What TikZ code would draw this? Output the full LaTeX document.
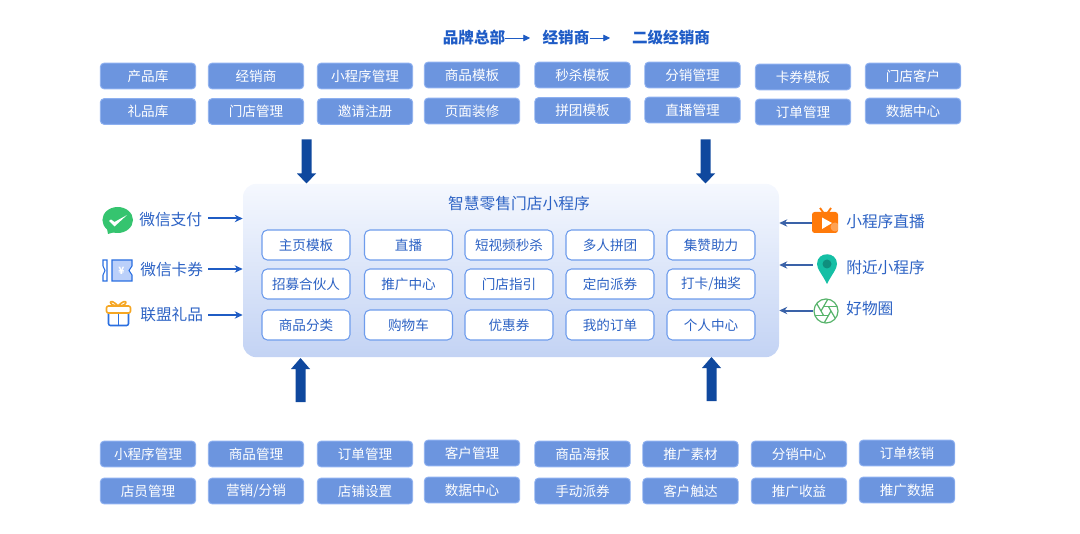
\documentclass[tikz,border=0pt]{standalone}
\usepackage{fontspec}
\setmainfont{Noto Sans CJK SC}
\usetikzlibrary{arrows.meta}
\definecolor{boxfill}{HTML}{6C95DF}
\definecolor{boxline}{HTML}{8DB0F0}
\definecolor{txtblue}{HTML}{2C62C4}
\definecolor{headblue}{HTML}{1F5CC6}
\definecolor{arrowblue}{HTML}{1F5CC4}
\definecolor{darkarrow}{HTML}{0F489E}
\definecolor{rightarrow}{HTML}{3A62A8}
\definecolor{innerline}{HTML}{6E9CEC}
\definecolor{paneltop}{HTML}{F5F8FE}
\definecolor{panelbot}{HTML}{C3D3F4}
\definecolor{wxgreen}{HTML}{35C46F}
\definecolor{cpfill}{HTML}{BBD0FA}
\definecolor{cpline}{HTML}{2A6FE0}
\definecolor{gfo}{HTML}{F5A623}
\definecolor{gfb}{HTML}{2A6FE0}
\definecolor{tvo}{HTML}{FF7A0A}
\definecolor{pincol}{HTML}{15BFA5}
\definecolor{pindark}{HTML}{0F8F7E}
\definecolor{apcol}{HTML}{56B36A}
\tikzset{
  x=0.75pt,y=-0.75pt,
  fnbox/.style={draw=boxline,line width=0.7pt,fill=boxfill,rounded corners=3pt,text=white,
    minimum width=71.6pt,minimum height=19.4pt,inner sep=0pt,font=\fontsize{10.2}{12}\selectfont},
  inbox/.style={draw=innerline,line width=0.8pt,fill=white,rounded corners=4pt,text=txtblue,
    minimum width=66pt,minimum height=22.5pt,inner sep=0pt,font=\fontsize{10.2}{12}\selectfont},
  sidelabel/.style={text=txtblue,inner sep=0pt,anchor=west,font=\fontsize{11.8}{14}\selectfont},
  headlabel/.style={text=headblue,inner sep=0pt,font=\bfseries\fontsize{11.7}{14}\selectfont},
  thinarrow/.style={draw=arrowblue,line width=1.5pt,-{Stealth[length=6pt,width=5.5pt]}},
  rarrow/.style={draw=rightarrow,line width=1.5pt,-{Stealth[length=6pt,width=5.5pt]}},
  headarrow/.style={draw=arrowblue,line width=0.5pt,-{Triangle[length=5pt,width=5pt]}},
}
\newcommand{\bigdown}[2]{\fill[darkarrow] (#1-5,#2-44)--(#1+5,#2-44)--(#1+5,#2-10)--(#1+9.5,#2-10)--(#1,#2)--(#1-9.5,#2-10)--(#1-5,#2-10)--cycle;}
\newcommand{\bigup}[2]{\fill[darkarrow] (#1-5,#2+44)--(#1+5,#2+44)--(#1+5,#2+11)--(#1+9.5,#2+11)--(#1,#2)--(#1-9.5,#2+11)--(#1-5,#2+11)--cycle;}
\begin{document}
\begin{tikzpicture}
\useasboundingbox (0,0) rectangle (1080,534);
% header
\node[headlabel] (h1) at (474,38) {品牌总部};
\node[headlabel] (h2) at (566,38) {经销商};
\node[headlabel] (h3) at (671,38) {二级经销商};
\coordinate (h1e) at (530,38);
\coordinate (h2e) at (610,38);
\draw[headarrow] (h1.east) -- (h1e);
\draw[headarrow] (h2.east) -- (h2e);
% top and bottom boxes
\foreach \n/\cx/\cy/\t in {
 a1/148/76/产品库, a2/256/76/经销商, a3/365/76/小程序管理, a4/472/75/商品模板,
 a5/582.5/75/秒杀模板, a6/692.5/75/分销管理, a7/803/77/卡券模板, a8/913/76/门店客户,
 b1/148/111.5/礼品库, b2/256/111.5/门店管理, b3/365/111.5/邀请注册, b4/472/111/页面装修,
 b5/582.5/110.5/拼团模板, b6/692.5/110/直播管理, b7/803/112/订单管理, b8/913/111/数据中心,
 c1/148/454/小程序管理, c2/256/454/商品管理, c3/365/454/订单管理, c4/472/453/客户管理,
 c5/582.5/454/商品海报, c6/690.5/454/推广素材, c7/799/454/分销中心, c8/907/453/订单核销,
 d1/148/491/店员管理, d2/256/491/{营销/分销}, d3/365/491/店铺设置, d4/472/490/数据中心,
 d5/582.5/491/手动派券, d6/690.5/491/客户触达, d7/799/491/推广收益, d8/907/490/推广数据}
 {\node[fnbox] (\n) at (\cx,\cy) {\t};}
% panel
\node[draw=none,rounded corners=10pt,top color=paneltop,bottom color=panelbot,
  minimum width=402pt,minimum height=130pt,inner sep=0pt] (panel) at (511,270.5) {};
\node[text=txtblue,inner sep=0pt,font=\fontsize{11.8}{14}\selectfont] (ptitle) at (519,204) {智慧零售门店小程序};
\foreach \n/\cx/\cy/\t in {
 i1/306/245/主页模板, i2/408.5/245/直播, i3/509/245/短视频秒杀, i4/610/245/多人拼团, i5/711/245/集赞助力,
 j1/306/284/招募合伙人, j2/408.5/284/推广中心, j3/509/284/门店指引, j4/610/284/定向派券, j5/711/284/{打卡/抽奖},
 k1/306/325/商品分类, k2/408.5/325/购物车, k3/509/325/优惠券, k4/610/325/我的订单, k5/711/325/个人中心}
 {\node[inbox] (\n) at (\cx,\cy) {\t};}
% big arrows
\bigdown{306.5}{183.5}
\bigdown{705.5}{183.5}
\bigup{300.5}{358}
\bigup{711.5}{357}
% left side
\node[sidelabel] (l1) at (139,220) {微信支付};
\node[sidelabel] (l2) at (140,270) {微信卡券};
\node[sidelabel] (l3) at (140,315) {联盟礼品};
\coordinate (la) at (208,218.5);
\coordinate (lb) at (208,269);
\coordinate (lc) at (208,315);
\draw[thinarrow] (la) -- (la -| panel.west);
\draw[thinarrow] (lb) -- (lb -| panel.west);
\draw[thinarrow] (lc) -- (lc -| panel.west);
% wechat icon
\fill[wxgreen] (117.7,220) ellipse [x radius=15.3,y radius=13];
\fill[wxgreen] (107,229) -- (108,234) -- (115,232) -- cycle;
\fill[white] (109,221) -- (111,219.5) -- (114.5,222) -- (127,215) -- (114.5,226.5) -- cycle;
% coupon icon
\fill[cpfill] (112,260) -- (132,260) -- (132,266) -- (129,270.5) -- (132,275) -- (132,281) -- (112,281) -- cycle;
\draw[cpline,line width=0.8pt] (112,281) -- (112,260) -- (132,260) -- (132,266) -- (129,270.5) -- (132,275) -- (132,281) -- cycle;
\draw[cpline,line width=0.8pt] (103,260) -- (107,260) -- (107,281) -- (103,281) -- (103,275) -- (105,270.5) -- (103,266) -- cycle;
\node[text=white,inner sep=0pt,font=\bfseries\fontsize{7.5}{8}\selectfont] (yen) at (121.5,270.5) {¥};
% gift icon
\draw[gfb,line width=1.2pt,rounded corners=1.5pt] (108.5,313) -- (108.5,325.5) -- (128.5,325.5) -- (128.5,313);
\draw[gfb,line width=1.2pt] (118.5,313) -- (118.5,325.5);
\draw[gfo,line width=1.2pt] (118,306) .. controls (109,296) and (107,306) .. (118,306);
\draw[gfo,line width=1.2pt] (118,306) .. controls (127,296) and (130,306) .. (118,306);
\draw[gfo,line width=1.2pt,rounded corners=1.5pt] (106.5,306) rectangle (130.5,313);
% right side
\node[sidelabel] (r1) at (846,222) {小程序直播};
\node[sidelabel] (r2) at (846,268) {附近小程序};
\node[sidelabel] (r3) at (846,309) {好物圈};
\coordinate (ra) at (813,223);
\coordinate (rb) at (813,265);
\coordinate (rc) at (813,310.5);
\draw[rarrow] (ra) -- (ra -| panel.east);
\draw[rarrow] (rb) -- (rb -| panel.east);
\draw[rarrow] (rc) -- (rc -| panel.east);
% tv icon
\draw[tvo,line width=1.4pt] (820,208) -- (823.5,213);
\draw[tvo,line width=1.4pt] (831,208) -- (827.5,213);
\fill[tvo,rounded corners=2pt] (812,212) rectangle (838,233);
\fill[white] (822,217.5) -- (832,223) -- (822,229) -- cycle;
\begin{scope}
\clip[rounded corners=2pt] (812,212) rectangle (838,233);
\fill[white,opacity=.3] (835,227) circle (4.5);
\end{scope}
% pin icon
\fill[pincol] (827,284) .. controls (822,274) and (817,269) .. (817,264) .. controls (817,251) and (837,251) .. (837,264) .. controls (837,269) and (832,274) .. (827,284) -- cycle;
\fill[pindark] (827,264) circle (4.5);
% aperture icon
\begin{scope}
\clip (826,311) circle (12);
\foreach \a in {0,60,...,300}{
  \draw[apcol,line width=0.9pt] (826,311) ++(\a:5) -- ++(\a+120:16);
}
\end{scope}
\draw[apcol,line width=0.9pt] (826,311) circle (12);
\end{tikzpicture}
\end{document}
